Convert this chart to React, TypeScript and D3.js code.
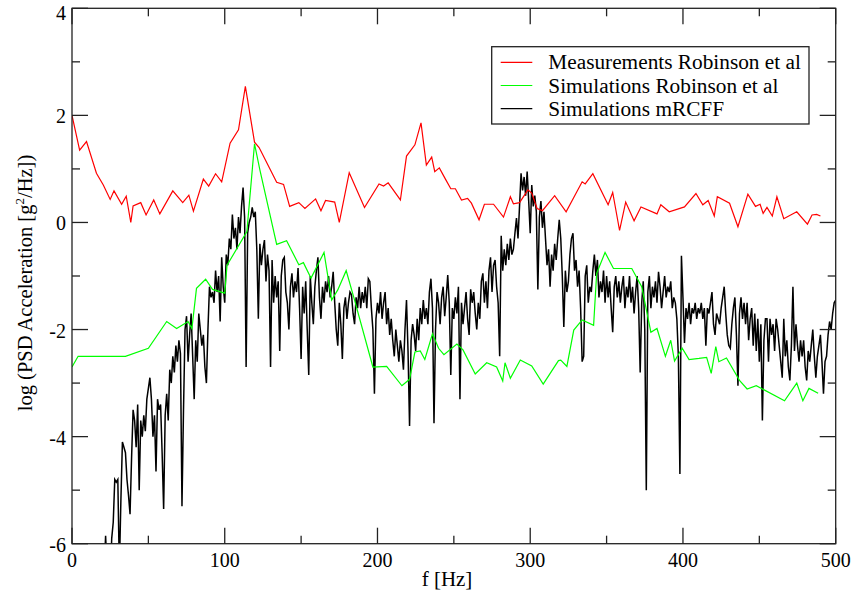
import React from 'react';
import * as d3 from 'd3';

const xMajorTicks = [0, 100, 200, 300, 400, 500];
const xMinorTicks = [50, 150, 250, 350, 450];
const yMajorTicks = [-6, -4, -2, 0, 2, 4];
const yMinorTicks = [-5, -3, -1, 1, 3];

const legendLabels = ['Measurements Robinson et al', 'Simulations Robinson et al', 'Simulations mRCFF'];
const seriesColors = ['#ff0000', '#00ff00', '#000000'];

// Measurements Robinson et al: [f, log PSD]
const measuredRobinson: [number, number][] = [
  [0, 2.0], [5, 1.35], [9.5, 1.51], [16, 0.92], [20.5, 0.7], [25, 0.43], [27.5, 0.59], [32.5, 0.34], [35.5, 0.49], [38.5, 0.0],
  [40, 0.31], [45, 0.37], [48.5, 0.14], [53.5, 0.42], [57.5, 0.16], [66, 0.59], [72.5, 0.37], [76.5, 0.51], [79.5, 0.21], [86, 0.81],
  [89.5, 0.68], [94, 0.91], [98, 0.76], [103.5, 1.48], [109, 1.73], [113.5, 2.54], [119.5, 1.5], [122.5, 1.4], [134, 0.75], [138.5, 0.71],
  [142.5, 0.3], [148.5, 0.37], [152.5, 0.26], [159.5, 0.44], [163, 0.22], [166, 0.41], [172, 0.38], [175, 0.0], [181.5, 0.93], [191.5, 0.28],
  [201, 0.72], [204, 0.68], [207, 0.74], [215, 0.42], [219, 1.24], [224.5, 1.45], [228.5, 1.86], [232, 1.07], [235.5, 1.22], [237.5, 0.95],
  [240.5, 1.02], [244.5, 0.81], [248, 0.63], [251, 0.63], [255, 0.42], [259, 0.45], [261.5, 0.36], [266.5, 0.05], [270, 0.34], [276, 0.34],
  [282.5, 0.1], [287, 0.48], [289, 0.35], [293, 0.37], [298.5, 0.61], [301, 0.55], [304.5, 0.26], [308, 0.22], [316, 0.5], [323.5, 0.2],
  [334, 0.76], [336, 0.72], [341, 0.91], [351, 0.33], [354, 0.56], [358.5, -0.15], [362.5, 0.38], [368, 0.03], [372.5, 0.29], [383, 0.16],
  [385.5, 0.33], [391, 0.2], [401, 0.29], [408.5, 0.54], [413, 0.33], [416.5, 0.41], [420.5, 0.12], [422.5, 0.48], [430.5, 0.36], [436, -0.08],
  [442.5, 0.53], [447.5, 0.3], [450.5, 0.34], [452.5, 0.17], [455, 0.28], [458.5, 0.12], [461.5, 0.48], [466, 0.07], [474.5, 0.2], [481.5, -0.03],
  [484.5, 0.14], [487.5, 0.15], [490, 0.12],
];

// Simulations Robinson et al: [f, log PSD]
const simulatedRobinson: [number, number][] = [
  [0, -2.7], [4, -2.5], [35, -2.5], [50, -2.35], [62, -1.85], [68.5, -1.98], [76, -1.85], [78.5, -1.98], [81.5, -1.23], [87.5, -1.06],
  [92, -1.25], [100, -1.32], [101.5, -0.8], [114.5, -0.17], [119.5, 1.47], [123, 0.98], [134, -0.41], [140.5, -0.34], [148.5, -0.79], [151.5, -0.75],
  [156.5, -1.04], [165, -0.56], [170, -1.45], [174, -1.26], [179.5, -0.9], [185, -1.45], [197, -2.7], [206, -2.69], [216, -3.05], [221, -2.93],
  [224.5, -2.42], [228, -2.4], [231, -2.56], [236, -2.08], [240, -2.35], [243.5, -2.47], [252, -2.27], [256, -2.38], [264, -2.83], [271.5, -2.62],
  [278, -2.7], [282, -2.96], [283.5, -2.62], [287, -2.91], [293.5, -2.57], [301, -2.68], [308.5, -3.02], [318.5, -2.58], [320, -2.57], [324, -2.69],
  [328.5, -2.01], [334, -1.82], [341.5, -1.92], [343.5, -0.95], [349, -0.56], [354.5, -0.86], [366.5, -0.86], [373, -1.2], [379, -2.05], [383, -1.98],
  [388.5, -2.5], [392, -2.2], [394.5, -2.59], [399.5, -2.35], [404, -2.56], [410.5, -2.54], [415.5, -2.52], [418.5, -2.82], [421.5, -2.32], [423.5, -2.6],
  [428.5, -2.53], [437, -2.95], [442, -3.11], [448, -3.05], [466.5, -3.33], [474.5, -3.0], [478.5, -3.33], [482.5, -3.1], [488.5, -3.19],
];

// Simulations mRCFF: one value per Hz, from 20 Hz to 500 Hz
const mrcffStartHz = 20;
const mrcffValues: number[] = [
  -7.0, -6.6, -5.85, -6.5, -6.3, -6.8, -5.9, -5.6, -4.8, -4.85,
  -4.8, -6.5, -5.2, -4.1, -4.2, -4.3, -4.8, -5.1, -5.45, -4.4,
  -3.5, -3.7, -4.2, -3.4, -5.0, -3.7, -4.0, -3.6, -3.9, -3.3,
  -3.1, -2.9, -3.3, -4.0, -3.6, -4.65, -3.3, -3.5, -3.4, -4.3,
  -5.35, -3.6, -3.2, -3.7, -2.75, -3.0, -2.5, -2.8, -2.3, -2.6,
  -2.2, -2.45, -5.3, -3.5, -2.0, -1.75, -2.6, -2.1, -1.7, -2.5,
  -3.3, -2.2, -2.6, -1.7, -2.0, -2.3, -2.1, -2.7, -3.0, -2.0,
  -1.2, -1.4, -1.3, -1.5, -0.9, -1.3, -1.0, -1.85, -0.65, -1.2,
  -1.5, -0.6, -0.8, -0.3, -0.5, 0.15, -0.3, -0.1, -0.5, 0.1,
  -0.2, 0.3, 0.65, 0.1, -2.7, -0.2, 0.0, 0.1, 0.28, 0.1,
  0.2, -0.5, -1.8, -0.4, -0.8, -0.5, -0.33, -1.1, -0.6, -0.9,
  -2.7, -0.7, -1.5, -1.0, -1.4, -1.1, -2.4, -1.0, -0.7, -0.65,
  -1.3, -1.5, -2.0, -1.2, -0.95, -1.4, -1.1, -1.3, -0.85, -1.6,
  -2.55, -1.2, -1.7, -1.1, -2.0, -2.85, -1.0, -1.5, -1.9, -1.2,
  -0.9, -0.65, -1.4, -1.8, -1.2, -1.5, -1.1, -1.3, -1.0, -1.4,
  -1.2, -0.92, -1.5, -2.0, -2.3, -1.5, -1.9, -2.55, -1.6, -1.4,
  -1.8, -1.5, -1.3, -1.35, -1.7, -1.9, -1.4, -1.6, -1.2, -1.6,
  -1.3, -1.5, -1.2, -1.6, -1.05, -1.1, -1.6, -2.0, -3.2, -1.8,
  -1.5, -1.7, -1.3, -1.8, -1.5, -1.3, -1.9, -1.6, -2.1, -1.8,
  -2.2, -2.5, -2.0, -2.3, -2.6, -2.2, -2.4, -2.75, -2.0, -1.45,
  -2.4, -3.8, -2.2, -1.9, -2.1, -2.4, -1.8, -2.2, -1.6, -1.9,
  -1.45, -1.8, -1.6, -1.9, -1.3, -1.05, -1.6, -3.75, -2.0, -1.3,
  -1.5, -1.9, -1.4, -1.2, -1.75, -1.4, -0.98, -1.5, -2.85, -1.6,
  -1.8, -1.4, -1.7, -1.2, -3.3, -1.5, -1.9, -1.6, -1.3, -1.8,
  -2.1, -1.25, -1.5, -1.3, -1.7, -2.0, -1.5, -1.8, -1.1, -0.95,
  -1.5, -1.1, -1.6, -0.9, -0.65, -1.3, -0.8, -0.7, -1.2, -1.5,
  -2.5, -0.25, -0.9, -0.5, -0.8, -0.4, -0.7, -0.3, -0.6, -0.5,
  -0.2, 0.08, -0.3, 0.3, 0.92, 0.6, 0.85, 0.5, 0.95, 0.4,
  -0.2, 0.7, 0.3, 0.5, 0.2, -1.25, 0.1, 0.4, -0.1, 0.2,
  -0.3, -0.8, -0.5, -1.2, -0.6, -0.9, -0.4, -0.7, -0.3, 0.05,
  -0.3, -1.0, -1.95, -0.9, -1.3, -1.1, -0.6, -0.3, -0.2, -0.9,
  -0.7, -1.2, -0.9, -1.6, -2.6, -2.5, -1.0, -0.8, -1.5, -1.2,
  -1.3, -0.9, -0.6, -1.0, -0.7, -1.4, -1.1, -1.3, -0.9, -1.5,
  -1.0, -1.4, -1.1, -1.6, -2.05, -1.2, -1.0, -1.4, -1.1, -1.5,
  -1.2, -1.0, -1.6, -1.2, -1.4, -1.0, -1.5, -1.2, -1.7, -1.3,
  -1.0, -1.6, -2.8, -1.5, -1.1, -2.0, -5.0, -1.3, -1.0, -1.6,
  -1.2, -1.4, -1.1, -1.5, -0.92, -1.2, -1.6, -1.3, -1.0, -1.4,
  -1.2, -1.3, -1.1, -1.6, -1.4, -1.5, -1.8, -2.5, -4.7, -0.62,
  -1.4, -2.25, -1.6, -1.8, -1.5, -1.9, -1.6, -1.7, -1.5, -1.8,
  -1.6, -1.7, -1.5, -1.8, -1.6, -2.3, -1.6, -1.7, -1.5, -1.3,
  -1.9, -2.1, -1.7, -1.8, -1.9, -1.6, -1.4, -1.2, -1.7, -2.1,
  -2.3, -2.35, -1.9, -1.6, -1.4, -2.1, -3.05, -1.7, -1.4, -1.8,
  -1.5, -1.9, -1.5, -2.2, -1.8, -1.6, -2.3, -1.7, -2.4, -1.8,
  -2.6, -1.9, -3.7, -2.2, -1.8, -1.8, -2.6, -1.8, -2.1, -1.9,
  -2.4, -1.8, -2.0, -2.3, -2.6, -2.9, -1.8, -2.5, -2.2, -2.7,
  -2.95, -2.3, -1.2, -2.4, -1.9, -2.3, -2.6, -2.2, -2.5, -2.2,
  -2.7, -2.95, -2.4, -2.6, -2.3, -2.0, -2.5, -2.9, -2.5, -2.3,
  -2.1, -2.6, -3.2, -2.6, -2.5, -2.1, -1.85, -2.0, -1.7, -1.5,
  -1.45,
];

const X0 = 72, X1 = 835.7, Y0 = 543.7, Y1 = 8.3;
const FONT = '"Liberation Serif", "Times New Roman", serif';

export default function App() {
  const x = d3.scaleLinear().domain([0, 500]).range([X0, X1]);
  const y = d3.scaleLinear().domain([-6, 4]).range([Y0, Y1]);
  const line = d3.line<[number, number]>().x(d => x(d[0])).y(d => y(d[1]));
  const mrcff: [number, number][] = mrcffValues.map((v, i) => [mrcffStartHz + i, v]);
  const series = [measuredRobinson, simulatedRobinson, mrcff];
  const widths = [1.2, 1.2, 1.5];
  const axisColor = '#222';
  const lx = 491.7, ly = 46.7, lw = 317.3, lh = 77.3;
  return (
    <svg width={855} height={596} style={{ position: 'absolute', left: 0, top: 0, background: '#fff' }} fontFamily={FONT}>
      <defs>
        <clipPath id="plotClip">
          <rect x={X0} y={Y1} width={X1 - X0} height={Y0 - Y1} />
        </clipPath>
      </defs>
      <rect x={0} y={0} width={855} height={596} fill="#fff" />
      <g clipPath="url(#plotClip)">
        {[2, 1, 0].map(i => (
          <path key={i} d={line(series[i]) || ''} fill="none" stroke={seriesColors[i]} strokeWidth={widths[i]} strokeLinejoin="miter" />
        ))}
      </g>
      {/* frame */}
      <rect x={X0} y={Y1} width={X1 - X0} height={Y0 - Y1} fill="none" stroke={axisColor} strokeWidth={1.3} />
      {/* ticks */}
      {xMajorTicks.map(t => (
        <g key={'xM' + t}>
          <line x1={x(t)} x2={x(t)} y1={Y0} y2={Y0 - 16} stroke={axisColor} strokeWidth={1.3} />
          <line x1={x(t)} x2={x(t)} y1={Y1} y2={Y1 + 16} stroke={axisColor} strokeWidth={1.3} />
          <text x={x(t)} y={567} fontSize={20} textAnchor="middle" fill="#000">{t}</text>
        </g>
      ))}
      {xMinorTicks.map(t => (
        <g key={'xm' + t}>
          <line x1={x(t)} x2={x(t)} y1={Y0} y2={Y0 - 8} stroke={axisColor} strokeWidth={1.3} />
          <line x1={x(t)} x2={x(t)} y1={Y1} y2={Y1 + 8} stroke={axisColor} strokeWidth={1.3} />
        </g>
      ))}
      {yMajorTicks.map(t => (
        <g key={'yM' + t}>
          <line x1={X0} x2={X0 + 16} y1={y(t)} y2={y(t)} stroke={axisColor} strokeWidth={1.3} />
          <line x1={X1} x2={X1 - 16} y1={y(t)} y2={y(t)} stroke={axisColor} strokeWidth={1.3} />
          <text x={66} y={Math.max(y(t) + 8, 20)} fontSize={20} textAnchor="end" fill="#000">{t}</text>
        </g>
      ))}
      {yMinorTicks.map(t => (
        <g key={'ym' + t}>
          <line x1={X0} x2={X0 + 8} y1={y(t)} y2={y(t)} stroke={axisColor} strokeWidth={1.3} />
          <line x1={X1} x2={X1 - 8} y1={y(t)} y2={y(t)} stroke={axisColor} strokeWidth={1.3} />
        </g>
      ))}
      {/* axis titles */}
      <text x={447} y={586} fontSize={21} textAnchor="middle" fill="#000">f [Hz]</text>
      <text transform={`translate(32, 283) rotate(-90)`} fontSize={20.5} textAnchor="middle" fill="#000">
        log (PSD Acceleration [g<tspan dy={-8} fontSize={13}>2</tspan><tspan dy={8}>/Hz])</tspan>
      </text>
      {/* legend */}
      <rect x={lx} y={ly} width={lw} height={lh} fill="#fff" stroke={axisColor} strokeWidth={1.3} />
      {legendLabels.map((lab, i) => (
        <g key={lab}>
          <line x1={500.7} x2={532.3} y1={62.3 + i * 23.2} y2={62.3 + i * 23.2} stroke={seriesColors[i]} strokeWidth={1.2} />
          <text x={548.3} y={69.3 + i * 23.2} fontSize={21.3} fill="#000">{lab}</text>
        </g>
      ))}
    </svg>
  );
}
